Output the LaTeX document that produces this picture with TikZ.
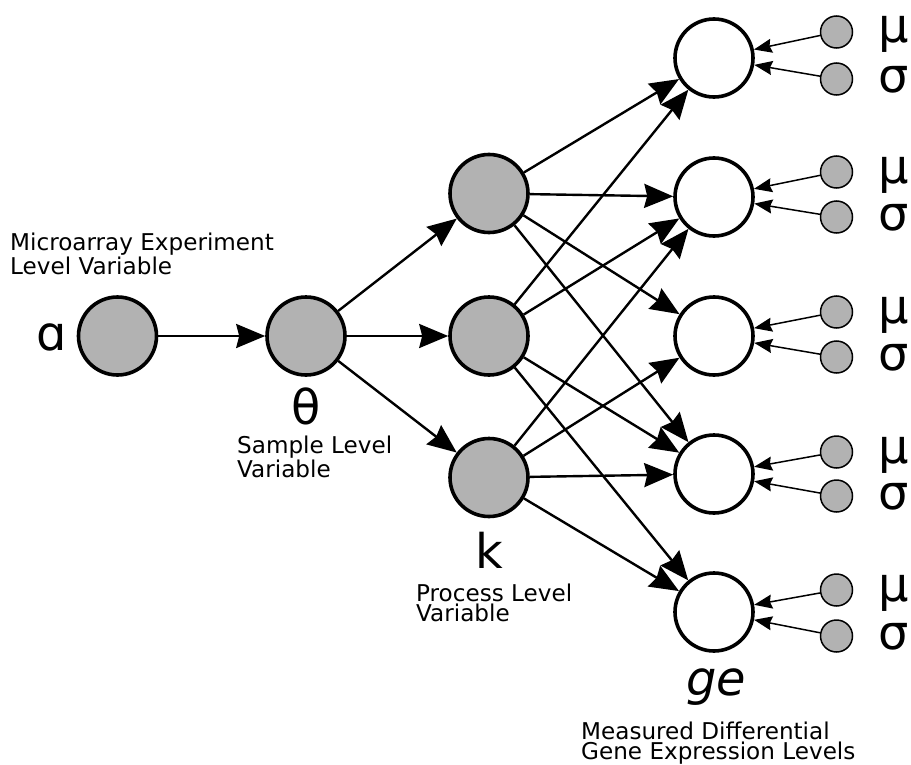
\documentclass[tikz,border=0pt]{standalone}
\usepackage{fontspec}
\setmainfont{DejaVu Sans}
\usetikzlibrary{arrows.meta}
\begin{document}
\begin{tikzpicture}[x=1bp,y=-1bp,
  bignode/.style={circle,draw,line width=3.6bp,minimum size=78bp,inner sep=0pt},
  varnode/.style={bignode,fill=black!30},
  obsnode/.style={bignode,fill=white},
  parnode/.style={circle,draw,line width=1.5bp,minimum size=32bp,inner sep=0pt,fill=black!30},
  mainarrow/.style={line width=2.4bp,-{Stealth[length=29bp,width=24bp,inset=3bp]}},
  pararrow/.style={line width=1.5bp,-{Stealth[length=18bp,width=14bp,inset=2bp]}},
  smalltext/.style={font=\fontsize{23.2}{20}\selectfont,align=left,inner sep=0pt,anchor=base west},
  greek/.style={font=\fontsize{48}{48}\selectfont,inner sep=0pt,anchor=base}
]
\useasboundingbox (0,0) rectangle (911,765);

% latent nodes
\node[varnode] (alpha) at (117.5,336) {};
\node[varnode] (theta) at (306,336) {};
\node[varnode] (k1) at (489,193.5) {};
\node[varnode] (k2) at (489,336) {};
\node[varnode] (k3) at (489,477.5) {};

% observed nodes
\node[obsnode] (ge1) at (714,58) {};
\node[obsnode] (ge2) at (714,197) {};
\node[obsnode] (ge3) at (714,336) {};
\node[obsnode] (ge4) at (714,474) {};
\node[obsnode] (ge5) at (714,612) {};

% parameter nodes
\node[parnode] (mu1) at (836.5,32) {};
\node[parnode] (sg1) at (836.5,79) {};
\node[parnode] (mu2) at (836.5,172) {};
\node[parnode] (sg2) at (836.5,217) {};
\node[parnode] (mu3) at (836.5,312) {};
\node[parnode] (sg3) at (836.5,357) {};
\node[parnode] (mu4) at (836.5,452) {};
\node[parnode] (sg4) at (836.5,496) {};
\node[parnode] (mu5) at (836.5,590) {};
\node[parnode] (sg5) at (836.5,636) {};

% greek labels
\node[greek] (lalpha) at (52,350) {ɑ};
\node[greek] (ltheta) at (306,424) {θ};
\node[greek] (lk) at (489,568) {k};
\node[greek,font=\fontsize{48}{48}\selectfont\itshape] (lge) at (716,695) {ge};
\foreach \i/\y in {1/32,2/172,3/312,4/452,5/590}{
  \node[greek,anchor=base west] (lmu\i) at (878,\y+11) {μ};
}
\foreach \i/\y in {1/79,2/217,3/357,4/496,5/636}{
  \node[greek,anchor=base west] (lsg\i) at (878,\y+13) {σ};
}

% descriptive labels (anchor = baseline of last line)
\node[smalltext] (tmicro) at (10,274) {Microarray Experiment\\Level Variable};
\node[smalltext] (tsample) at (237,477) {Sample Level\\Variable};
\node[smalltext] (tprocess) at (416,621) {Process Level\\Variable};
\node[smalltext] (tmeasured) at (581,759) {Measured Differential\\Gene Expression Levels};

% connectors
\draw[mainarrow] (alpha) -- (theta);
\foreach \k in {k1,k2,k3} \draw[mainarrow] (theta) -- (\k);
\foreach \g in {ge1,ge2,ge3,ge4} \draw[mainarrow] (k1) -- (\g);
\foreach \g in {ge1,ge2,ge4,ge5} \draw[mainarrow] (k2) -- (\g);
\foreach \g in {ge2,ge3,ge4,ge5} \draw[mainarrow] (k3) -- (\g);
\foreach \i in {1,...,5}{
  \draw[pararrow] (mu\i) -- (ge\i);
  \draw[pararrow] (sg\i) -- (ge\i);
}
\end{tikzpicture}
\end{document}
